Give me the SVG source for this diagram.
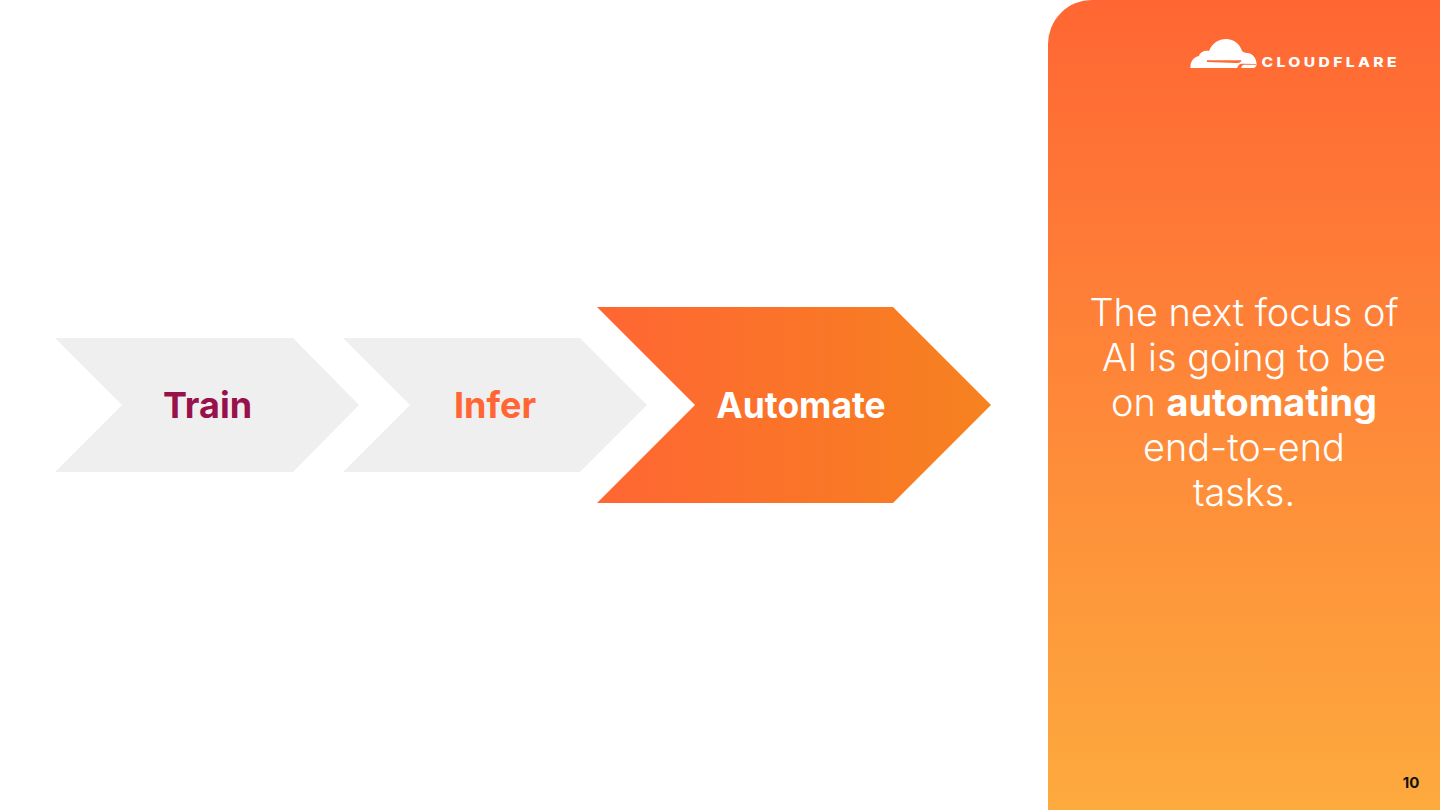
<svg xmlns="http://www.w3.org/2000/svg" width="1440" height="810" viewBox="0 0 1440 810">
<style>
.l{font-family:Inter,"Liberation Sans",sans-serif;font-weight:700;font-size:36px;text-anchor:middle}
.p{font-family:Inter,"Liberation Sans",sans-serif;font-weight:300;font-size:37.9px;fill:#fff;text-anchor:middle}
</style>
<defs>
<linearGradient id="side" x1="0" y1="0" x2="0" y2="1"><stop offset="0" stop-color="#FF6633"/><stop offset="1" stop-color="#FDAA3E"/></linearGradient>
<linearGradient id="arrow" x1="0" y1="0" x2="1" y2="0"><stop offset="0" stop-color="#FF6633"/><stop offset="1" stop-color="#F6821F"/></linearGradient>
</defs>
<rect width="1440" height="810" fill="#fff"/>
<g id="panel">
<path d="M1092 0H1440V810H1048V44A44 44 0 0 1 1092 0Z" fill="url(#side)"/>
<text class="p" x="1244" y="326">The next focus of</text>
<text class="p" x="1244" y="371">AI is going to be</text>
<text class="p" x="1244" y="416">on <tspan font-weight="700">automating</tspan></text>
<text class="p" x="1244" y="461">end-to-end</text>
<text class="p" x="1244" y="506">tasks.</text>
<text x="1411" y="788" font-family="Inter,'Liberation Sans',sans-serif" font-weight="700" font-size="15" fill="#111" text-anchor="middle">10</text>
</g>
<g id="logo">
<path d="M1190.500 68C1190 61 1194 57 1199 56C1200 52 1205 50 1209 51C1212 43 1219 39 1226 39C1234 39 1240 44 1242 51C1245 53 1246 53 1248 53C1253 54 1256 58 1256.500 63C1256.800 66 1255 68 1253 68Z" fill="#fff"/>
<path d="M1207 60.200H1240.500C1241.500 60.200 1241.500 60.800 1241 61.500C1240 62.800 1238.500 63 1236 63L1207 62Z" fill="#FF6A33"/>
<path d="M1237 68L1238.500 65.500C1239.500 64 1241 63.800 1243 63.800L1256 64L1256 68Z" fill="#FF6A33"/>
<path d="M1241 68L1242 66C1242.500 65 1243.500 64.800 1245 64.800H1256.300C1256.500 66.500 1255 68 1253 68Z" fill="#fff"/>
<text x="1261.500" y="67.200" font-family="Inter,'Liberation Sans',sans-serif" font-weight="800" font-size="13.800" letter-spacing="3" textLength="138.500" lengthAdjust="spacingAndGlyphs" fill="#fff">CLOUDFLARE</text>
</g>
<g id="train">
<polygon points="55,338 293,338 359,405 293,472 55,472 122,405" fill="#EFEFEF"/>
<text class="l" x="207.500" y="418" fill="#98114B">Train</text>
</g>
<g id="infer">
<polygon points="343,338 580,338 647,405 580,472 343,472 410,405" fill="#EFEFEF"/>
<text class="l" x="495" y="418" fill="#FF6633">Infer</text>
</g>
<g id="automate">
<polygon points="597,307 893,307 991,405 893,503 597,503 695,405" fill="url(#arrow)"/>
<text class="l" x="801" y="418" fill="#fff" style="font-size:35.400px">Automate</text>
</g>
</svg>
